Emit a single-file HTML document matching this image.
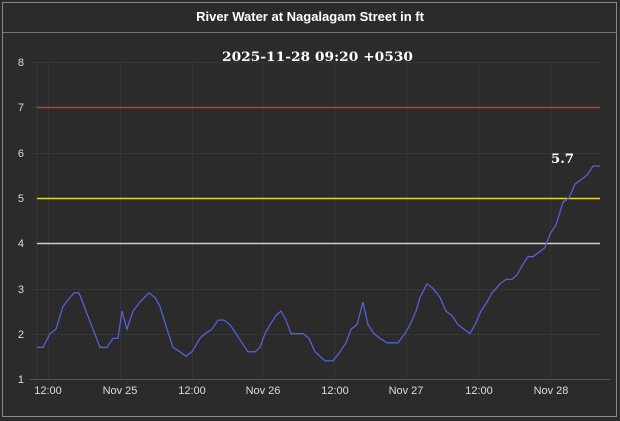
<!DOCTYPE html>
<html><head><style>
html,body{margin:0;padding:0;background:#2b2b2b;}
svg{display:block}
</style></head><body>
<svg width="620" height="421" xmlns="http://www.w3.org/2000/svg">
<rect x="0" y="0" width="620" height="421" fill="#2b2b2b"/>
<rect x="2.5" y="2.5" width="614" height="414" fill="none" stroke="#888" stroke-width="1"/>
<line x1="3" y1="32.5" x2="617" y2="32.5" stroke="#777" stroke-width="1"/>
<text x="310" y="21" fill="#fff" font-family="Liberation Sans, sans-serif" font-size="13" font-weight="bold" text-anchor="middle">River Water at Nagalagam Street in ft</text>
<g stroke="#363636" stroke-width="1">
<line x1="30" y1="62.5" x2="600" y2="62.5"/>
<line x1="30" y1="107.5" x2="600" y2="107.5"/>
<line x1="30" y1="153.5" x2="600" y2="153.5"/>
<line x1="30" y1="198.5" x2="600" y2="198.5"/>
<line x1="30" y1="243.5" x2="600" y2="243.5"/>
<line x1="30" y1="289.5" x2="600" y2="289.5"/>
<line x1="30" y1="334.5" x2="600" y2="334.5"/>
<line x1="36.5" y1="62" x2="36.5" y2="379"/>
<line x1="48.5" y1="62" x2="48.5" y2="379"/>
<line x1="120.5" y1="62" x2="120.5" y2="379"/>
<line x1="192.5" y1="62" x2="192.5" y2="379"/>
<line x1="262.5" y1="62" x2="262.5" y2="379"/>
<line x1="334.5" y1="62" x2="334.5" y2="379"/>
<line x1="406.5" y1="62" x2="406.5" y2="379"/>
<line x1="478.5" y1="62" x2="478.5" y2="379"/>
<line x1="550.5" y1="62" x2="550.5" y2="379"/>
</g>
<line x1="30" y1="379.5" x2="610" y2="379.5" stroke="#555"/>
<g fill="#ddd" font-family="Liberation Sans, sans-serif" font-size="11" text-anchor="end">
<text x="24" y="66">8</text><text x="24" y="111">7</text><text x="24" y="157">6</text><text x="24" y="202">5</text><text x="24" y="247">4</text><text x="24" y="293">3</text><text x="24" y="338">2</text><text x="24" y="383">1</text>
</g>
<g fill="#ddd" font-family="Liberation Sans, sans-serif" font-size="11" text-anchor="middle">
<text x="48" y="394">12:00</text><text x="120" y="394">Nov 25</text><text x="192" y="394">12:00</text><text x="263" y="394">Nov 26</text><text x="335" y="394">12:00</text><text x="406" y="394">Nov 27</text><text x="479" y="394">12:00</text><text x="551" y="394">Nov 28</text>
</g>
<line x1="37" y1="107.5" x2="600" y2="107.5" stroke="#d9302b" stroke-width="1.5"/>
<line x1="37" y1="198.5" x2="600" y2="198.5" stroke="#e3d82a" stroke-width="1.5"/>
<line x1="37" y1="243.5" x2="600" y2="243.5" stroke="#d0d0d0" stroke-width="1.5"/>
<text x="222" y="61" fill="#fff" font-family="DejaVu Serif, serif" font-size="13" font-weight="bold" textLength="191" lengthAdjust="spacingAndGlyphs">2025-11-28 09:20 +0530</text>
<text x="551" y="163" fill="#fff" font-family="DejaVu Serif, serif" font-size="13" font-weight="bold" textLength="23" lengthAdjust="spacingAndGlyphs">5.7</text>
<polyline fill="none" stroke="#5560d8" stroke-width="1.3" points="
37,347.3 43,347.3 50,333.7 56,329.2 63,306.5 70,297.5 74,292.9 79,292.9 86,311.1 93,329.2 100,347.3 107,347.3 113,338.3 118,338.3 122,311.1 127,329.2 133,311.1 140,302.0 149,292.9 155,297.5 160,306.5 167,329.2 173,347.3 180,351.8 186,356.4 192,351.8 200,338.3 205,333.7 212,329.2 218,320.1 224,320.1 230,324.7 236,333.7 242,342.8 248,351.8 255,351.8 260,347.3 265,333.7 270,324.7 276,315.6 281,311.1 286,320.1 291,333.7 296,333.7 303,333.7 309,338.3 315,351.8 320,356.4 325,360.9 333,360.9 340,351.8 346,342.8 351,329.2 357,324.7 363,302.0 368,324.7 374,333.7 380,338.3 387,342.8 398,342.8 405,333.7 410,324.7 416,311.1 420,297.5 427,283.9 433,288.4 440,297.5 446,311.1 452,315.6 458,324.7 464,329.2 470,333.7 475,324.7 481,311.1 487,302.0 492,292.9 500,283.9 506,279.4 512,279.4 517,274.8 522,265.8 528,256.7 533,256.7 539,252.2 545,247.6 550,234.0 556,225.0 563,202.3 569,197.8 575,184.2 581,179.7 587,175.1 593,166.1 600,166.1"/>
</svg>
</body></html>
